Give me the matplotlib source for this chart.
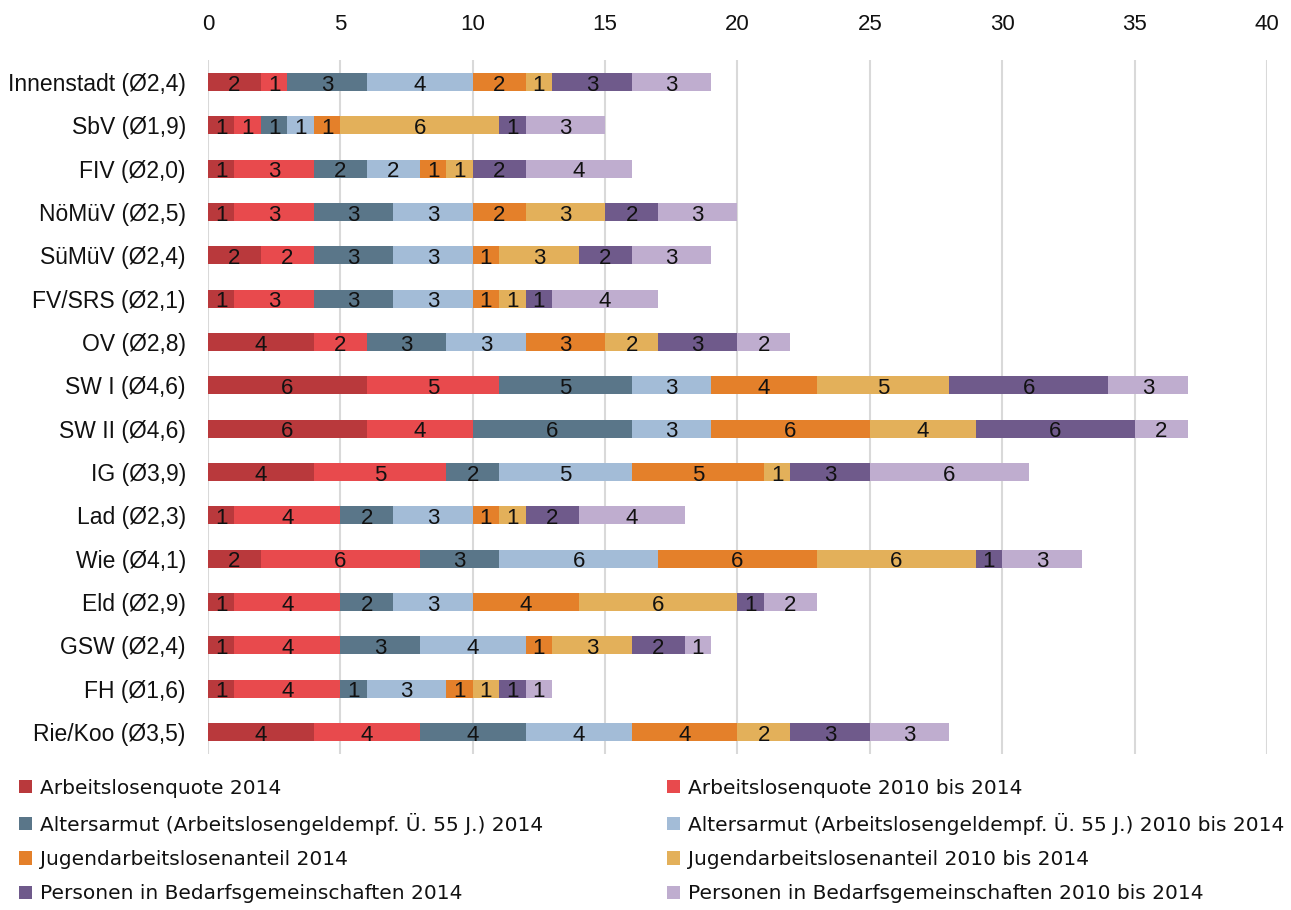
import matplotlib
matplotlib.use("Agg")
import matplotlib.pyplot as plt
from matplotlib.patches import Patch
import numpy as np

plt.rcParams['font.family'] = ['Liberation Sans', 'DejaVu Sans']

districts = ["Innenstadt (Ø2,4)", "SbV (Ø1,9)", "FIV (Ø2,0)", "NöMüV (Ø2,5)",
             "SüMüV (Ø2,4)", "FV/SRS (Ø2,1)", "OV (Ø2,8)", "SW I (Ø4,6)",
             "SW II (Ø4,6)", "IG (Ø3,9)", "Lad (Ø2,3)", "Wie (Ø4,1)",
             "Eld (Ø2,9)", "GSW (Ø2,4)", "FH (Ø1,6)", "Rie/Koo (Ø3,5)"]

series_names = ["Arbeitslosenquote 2014",
                "Arbeitslosenquote 2010 bis 2014",
                "Altersarmut (Arbeitslosengeldempf. Ü. 55 J.) 2014",
                "Altersarmut (Arbeitslosengeldempf. Ü. 55 J.) 2010 bis 2014",
                "Jugendarbeitslosenanteil 2014",
                "Jugendarbeitslosenanteil 2010 bis 2014",
                "Personen in Bedarfsgemeinschaften 2014",
                "Personen in Bedarfsgemeinschaften 2010 bis 2014"]

alq_2014      = [2, 1, 1, 1, 2, 1, 4, 6, 6, 4, 1, 2, 1, 1, 1, 4]
alq_2010_14   = [1, 1, 3, 3, 2, 3, 2, 5, 4, 5, 4, 6, 4, 4, 4, 4]
alt_2014      = [3, 1, 2, 3, 3, 3, 3, 5, 6, 2, 2, 3, 2, 3, 1, 4]
alt_2010_14   = [4, 1, 2, 3, 3, 3, 3, 3, 3, 5, 3, 6, 3, 4, 3, 4]
jug_2014      = [2, 1, 1, 2, 1, 1, 3, 4, 6, 5, 1, 6, 4, 1, 1, 4]
jug_2010_14   = [1, 6, 1, 3, 3, 1, 2, 5, 4, 1, 1, 6, 6, 3, 1, 2]
bg_2014       = [3, 1, 2, 2, 2, 1, 3, 6, 6, 3, 2, 1, 1, 2, 1, 3]
bg_2010_14    = [3, 3, 4, 3, 3, 4, 2, 3, 2, 6, 4, 3, 2, 1, 1, 3]

series = [alq_2014, alq_2010_14, alt_2014, alt_2010_14,
          jug_2014, jug_2010_14, bg_2014, bg_2010_14]

colors = ["#B9393C", "#E84A4D", "#5A7689", "#A3BCD7",
          "#E4802A", "#E3B05A", "#6F5A8B", "#BFADCF"]

fig = plt.figure(figsize=(12.91, 9.10), dpi=100)
ax = fig.add_axes([0.1611, 0.1718, 0.8203, 0.7619])

y = np.arange(len(districts))
left = np.zeros(len(districts))
for vals, col in zip(series, colors):
    vals = np.array(vals, dtype=float)
    ax.barh(y, vals, left=left, height=0.42, color=col, linewidth=0, zorder=2)
    for yi, (l, v) in enumerate(zip(left, vals)):
        ax.text(l + v / 2, yi + 0.07, f"{int(v)}", ha="center", va="center",
                fontsize=16, color="#111111", zorder=3)
    left += vals

ax.set_xlim(0, 40)
ax.set_ylim(len(districts) - 0.5, -0.5)
ax.set_xticks(np.arange(0, 41, 5))
ax.set_yticks(y)
ax.set_yticklabels(districts)
ax.xaxis.tick_top()
ax.tick_params(axis="x", length=0, pad=18, labelsize=16, colors="#111111")
ax.tick_params(axis="y", length=0, pad=16, labelsize=16.5, colors="#111111")
ax.grid(axis="x", color="#D9D9D9", linewidth=1.5, zorder=0)
ax.set_axisbelow(True)
for s in ax.spines.values():
    s.set_visible(False)

handles = [Patch(facecolor=c, edgecolor="none") for c in colors]
common = dict(frameon=False, prop={"family": "DejaVu Sans", "size": 14.5},
              handlelength=0.64, handleheight=0.64,
              handletextpad=0.4, labelspacing=0.755, borderpad=0, borderaxespad=0,
              loc="upper left")
leg1 = fig.legend([handles[i] for i in (0, 2, 4, 6)],
                  [series_names[i] for i in (0, 2, 4, 6)],
                  bbox_to_anchor=(0.0147, 0.1443), **common)
leg2 = fig.legend([handles[i] for i in (1, 3, 5, 7)],
                  [series_names[i] for i in (1, 3, 5, 7)],
                  bbox_to_anchor=(0.5167, 0.1443), **common)
for leg in (leg1, leg2):
    for t in leg.get_texts():
        t.set_color("#111111")

fig.savefig("out.png", dpi=100)
